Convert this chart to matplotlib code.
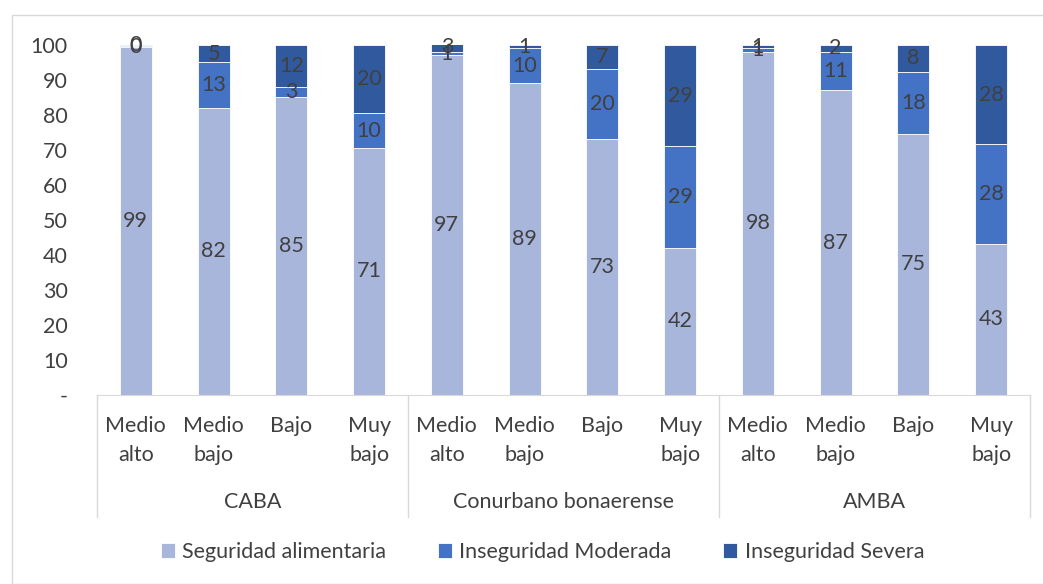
import numpy as np
import matplotlib.pyplot as plt
from matplotlib.patches import Rectangle

plt.rcParams['font.family'] = ['Lato', 'DejaVu Sans']

# ===== データ =====
groups = ["CABA", "Conurbano bonaerense", "AMBA"]
niveles = ["Medio\nalto", "Medio\nbajo", "Bajo", "Muy\nbajo"]
series = ["Seguridad alimentaria", "Inseguridad Moderada", "Inseguridad Severa"]

seguridad = [99.3, 82, 85, 70.6, 97, 89, 73, 42, 98, 87, 74.6, 43.2]
moderada = [0.4, 13, 3, 9.8, 1, 10, 20, 29, 1, 11, 17.7, 28.4]
severa = [0.3, 5, 12, 19.6, 2.6, 1, 7, 29, 1, 2, 7.7, 28.4]

colors = ["#A9B6DB", "#4472C4", "#315A9E"]
txt = "#404040"
fs = 15.5

fig = plt.figure(figsize=(10.43, 5.84), dpi=100)
ax = fig.add_axes([0.093, 0.3236, 0.8945, 0.5997])

x = np.arange(len(seguridad))
bottom = np.zeros(len(x))
for vals, c, name in zip([seguridad, moderada, severa], colors, series):
    vals = np.array(vals, dtype=float)
    ax.bar(x, vals, 0.41, bottom=bottom, color=c, edgecolor="white",
           linewidth=0.6, label=name)
    for xi, b, v in zip(x, bottom, vals):
        ax.text(xi, b + v / 2, f"{v:.0f}", ha="center", va="center",
                fontsize=fs, color=txt)
    bottom += vals

ax.set_xlim(-0.5, len(x) - 0.5)
ax.set_ylim(0, 100)
ax.set_yticks(np.arange(0, 101, 10))
ax.set_yticklabels(["-"] + [str(v) for v in range(10, 101, 10)])
ax.set_xticks(x)
ax.set_xticklabels(niveles * 3, linespacing=1.6)
ax.tick_params(axis="both", length=0, labelsize=fs, labelcolor=txt)
ax.tick_params(axis="x", pad=15)
ax.tick_params(axis="y", pad=21)
for s in ["top", "right", "left"]:
    ax.spines[s].set_visible(False)
ax.spines["bottom"].set_color("#D9D9D9")

# separadores de grupos
trans = ax.get_xaxis_transform()
for pos in [-0.5, 3.5, 7.5, 11.5]:
    ax.plot([pos, pos], [0, -0.349], transform=trans, color="#D9D9D9",
            lw=1, clip_on=False)
for i, g in enumerate(groups):
    ax.text(i * 4 + 1.5, -0.306, g, transform=trans, ha="center", va="center",
            fontsize=fs, color=txt)

fig.legend(loc="center", bbox_to_anchor=(0.52, 0.055), ncol=3, frameon=False,
           handlelength=0.65, handleheight=0.65, handletextpad=0.35,
           columnspacing=2.4, fontsize=fs, labelcolor=txt)

fig.patches.append(Rectangle((12 / 1043, 0), 1.1, 1 - 15 / 584,
                             transform=fig.transFigure, fill=False,
                             edgecolor="#D9D9D9", lw=1))

fig.savefig("out.png", dpi=100)
